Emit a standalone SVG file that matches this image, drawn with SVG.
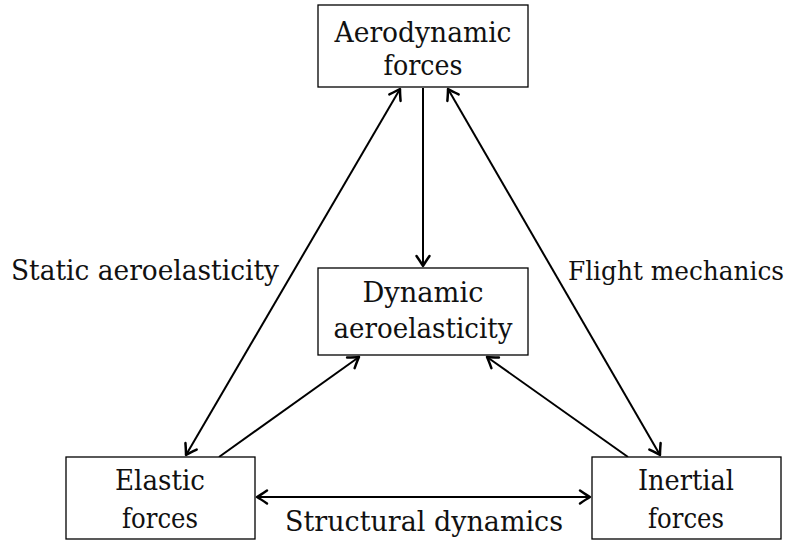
<svg xmlns="http://www.w3.org/2000/svg" width="796" height="542" viewBox="0 0 796 542">
<style>
.box{fill:#fff;stroke:#000;stroke-width:1.3}
.t{font-size:28px;fill:#111;text-anchor:middle}
.e{stroke:#000;stroke-width:2;fill:none}
</style>
<defs>
<marker id="ah" markerUnits="userSpaceOnUse" viewBox="-13 -9 15 18" refX="0" refY="0" markerWidth="15" markerHeight="18" orient="auto-start-reverse">
<path d="M -10 -6.5 Q -3.5 -2 0 0 Q -3.5 2 -10 6.5" fill="none" stroke="#000" stroke-width="2.5" stroke-linecap="round" stroke-linejoin="round"/>
</marker>
</defs>
<rect width="796" height="542" fill="#fff"/>
<g id="edges">
<line class="e" x1="423" y1="88" x2="423" y2="266" marker-end="url(#ah)"/>
<line class="e" x1="400" y1="89" x2="186" y2="455" marker-start="url(#ah)" marker-end="url(#ah)"/>
<line class="e" x1="448" y1="89" x2="660" y2="455" marker-start="url(#ah)" marker-end="url(#ah)"/>
<line class="e" x1="219" y1="457" x2="359" y2="357" marker-end="url(#ah)"/>
<line class="e" x1="628" y1="457" x2="487" y2="357" marker-end="url(#ah)"/>
<line class="e" x1="257" y1="497" x2="590" y2="497" marker-start="url(#ah)" marker-end="url(#ah)"/>
</g>
<g id="labels">
<text class="t" font-family="DejaVu Serif" x="145" y="280" textLength="268" lengthAdjust="spacingAndGlyphs">Static aeroelasticity</text>
<text class="t" font-family="DejaVu Serif" font-size="26" style="font-size:26px" x="676" y="280" textLength="216" lengthAdjust="spacingAndGlyphs">Flight mechanics</text>
<text class="t" font-family="DejaVu Serif" x="424" y="531" textLength="278" lengthAdjust="spacingAndGlyphs">Structural dynamics</text>
</g>
<g id="aero">
<rect class="box" x="318" y="5" width="210" height="82"/>
<text class="t" font-family="DejaVu Serif" x="423" y="42" textLength="177" lengthAdjust="spacingAndGlyphs">Aerodynamic</text>
<text class="t" font-family="DejaVu Serif" x="423" y="75" textLength="79" lengthAdjust="spacingAndGlyphs">forces</text>
</g>
<g id="dyn">
<rect class="box" x="318" y="268" width="210" height="87"/>
<text class="t" font-family="DejaVu Serif" x="423" y="302" textLength="121" lengthAdjust="spacingAndGlyphs">Dynamic</text>
<text class="t" font-family="DejaVu Serif" x="423" y="338" textLength="179" lengthAdjust="spacingAndGlyphs">aeroelasticity</text>
</g>
<g id="elastic">
<rect class="box" x="66" y="457" width="189" height="82"/>
<text class="t" font-family="DejaVu Serif" x="160" y="490" textLength="90" lengthAdjust="spacingAndGlyphs">Elastic</text>
<text class="t" font-family="DejaVu Serif" x="160" y="528" textLength="76" lengthAdjust="spacingAndGlyphs">forces</text>
</g>
<g id="inertial">
<rect class="box" x="592" y="457" width="189" height="82"/>
<text class="t" font-family="DejaVu Serif" x="686" y="490" textLength="96" lengthAdjust="spacingAndGlyphs">Inertial</text>
<text class="t" font-family="DejaVu Serif" x="686" y="528" textLength="76" lengthAdjust="spacingAndGlyphs">forces</text>
</g>
</svg>
